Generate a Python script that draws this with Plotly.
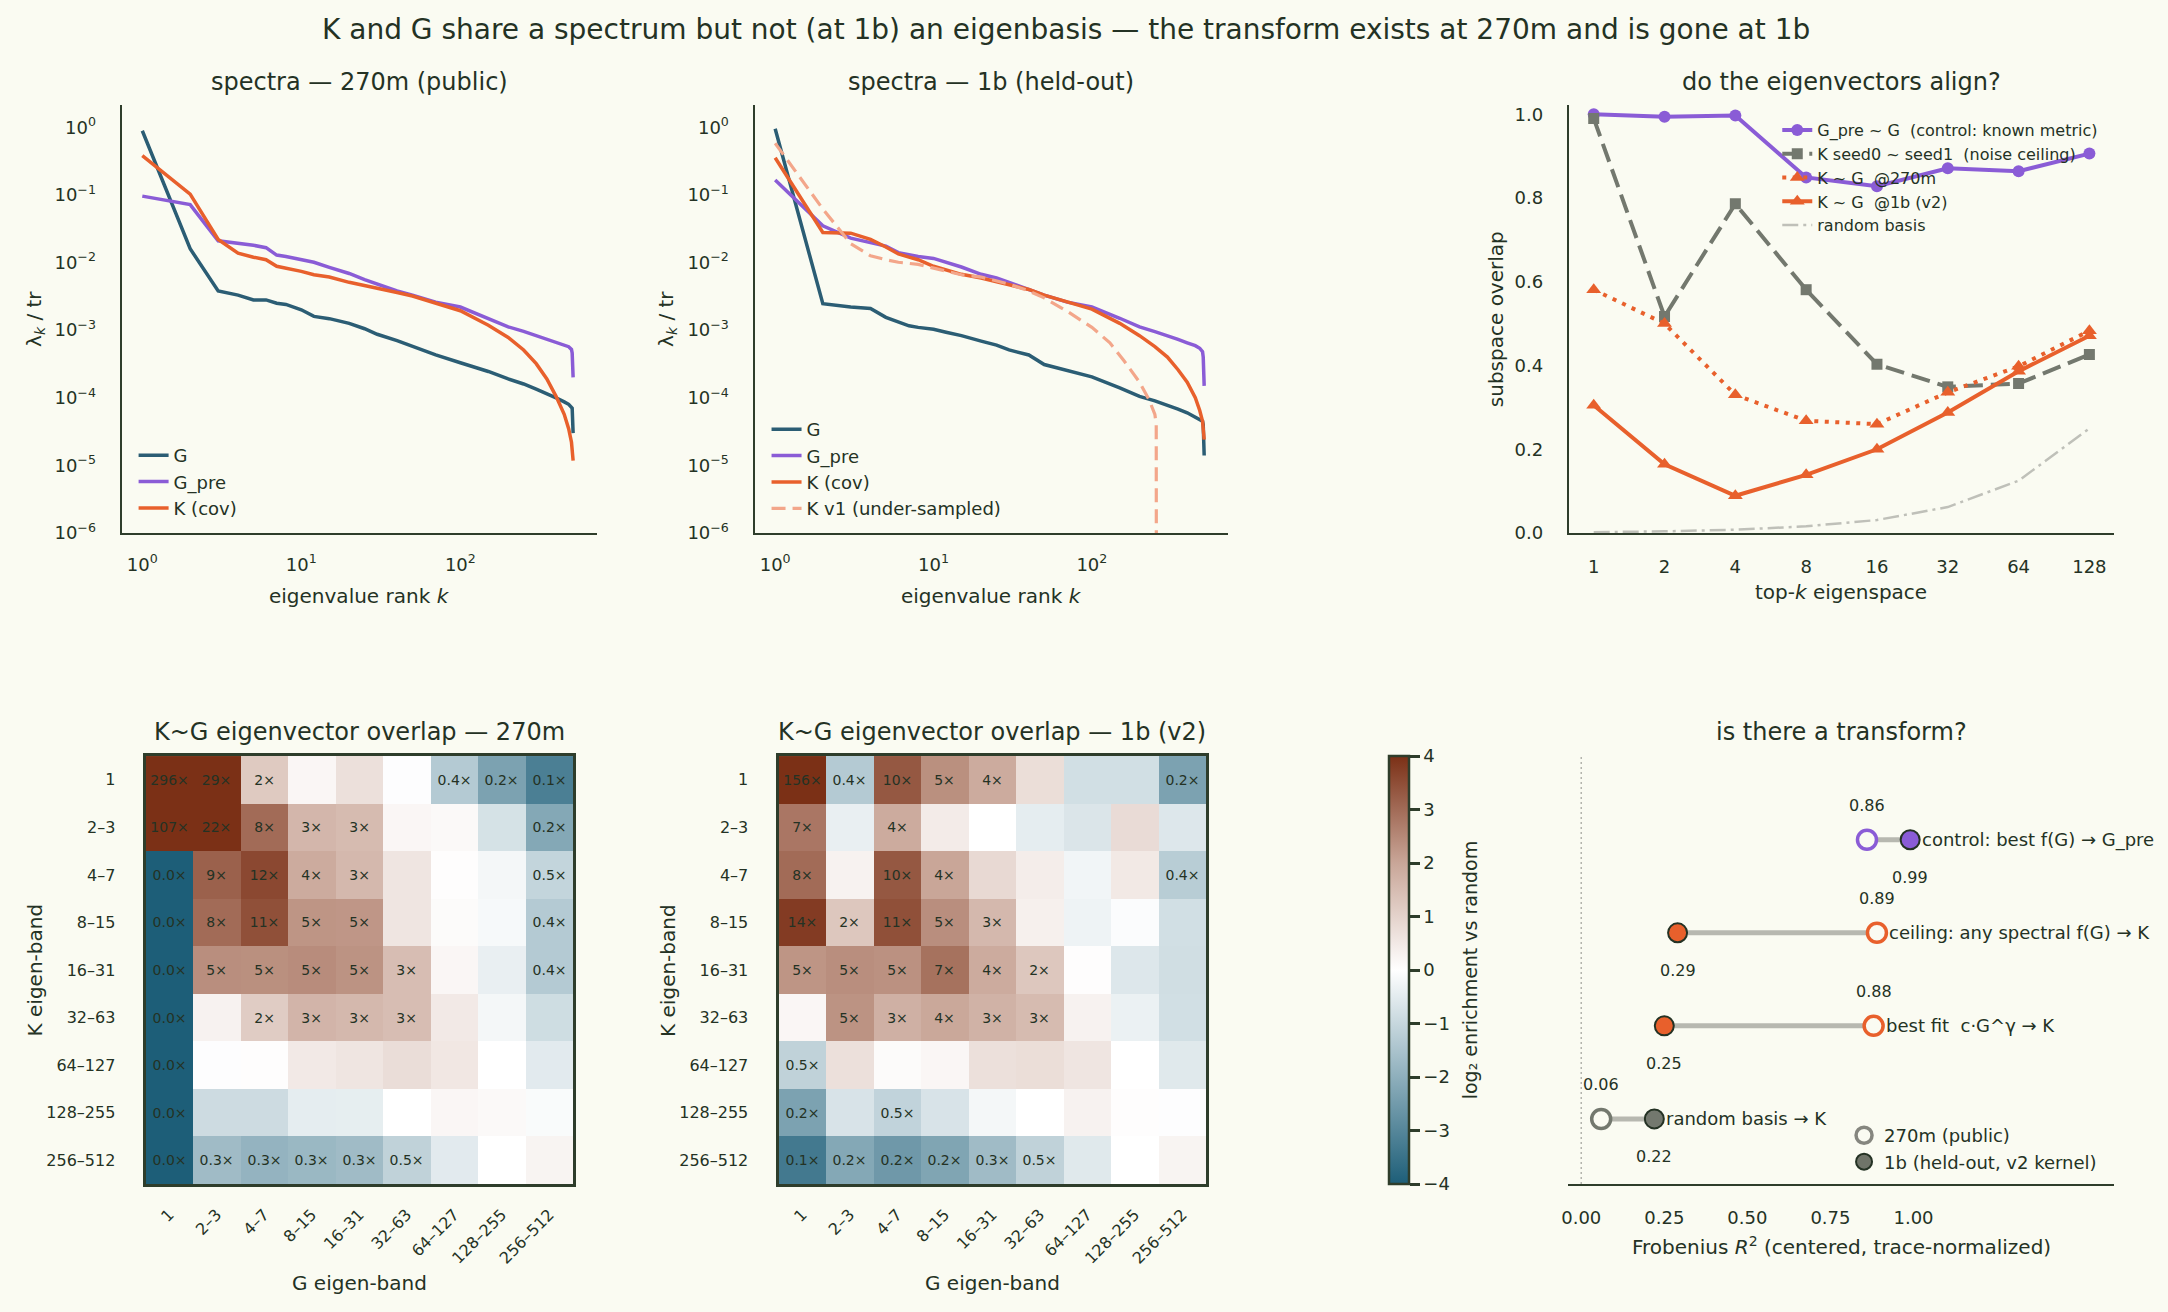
import numpy as np
import plotly.graph_objects as go

W, H = 2168, 1312
YS = 1.0085  # vertical calibration of the page photograph
BG = "#fafbf2"
INK = "#243224"
SPINE = "#2e3d2b"
C_G = "#2b5d74"
C_GPRE = "#8a5cd6"
C_K = "#e8602c"
C_KV1 = "#f3a68a"
C_GRAY = "#73786e"
C_RAND = "#bfc0b9"
C_LINK = "#b7b8b0"
FONT = "DejaVu Sans"
NB = "\u00a0"

# ---------------- spectra data ----------------
RANKS = [1, 2, 3, 4, 5, 6, 7, 8, 10, 12, 15, 20, 25, 30, 40, 50, 70, 100, 150, 200,
         250, 300, 350, 400, 450, 480, 500, 505, 512]

G_270 = [0.89, 0.016, 0.0038, 0.0033, 0.0028, 0.0028, 0.0025, 0.0024, 0.002, 0.0016, 0.00148,
         0.00126, 0.00105, 0.00087, 0.0007, 0.00057, 0.00043, 0.00033, 0.000245, 0.00019,
         0.00016, 0.000134, 0.000116, 0.0001, 0.000087, 0.00008, 0.000072, 0.00007, 0.00003]
GPRE_270 = [0.096, 0.072, 0.021, 0.0194, 0.018, 0.0166, 0.0129, 0.0123, 0.011, 0.0101, 0.0085,
            0.0069, 0.0056, 0.0048, 0.0038, 0.0033, 0.0026, 0.0022, 0.0015, 0.00112,
            0.00096, 0.00083, 0.00073, 0.00065, 0.0006, 0.00057, 0.00052, 0.00046, 0.0002]
K_270 = [0.38, 0.103, 0.022, 0.0138, 0.012, 0.011, 0.0088, 0.0083, 0.0074, 0.0066, 0.0061,
         0.0051, 0.0046, 0.0042, 0.0036, 0.0032, 0.0025, 0.00194, 0.00118, 0.00078,
         0.00051, 0.00032, 0.00019, 0.000105, 0.000057, 0.000035, 0.000022, 0.000018, 0.0000118]

G_1B = [0.95, 0.00246, 0.0022, 0.0021, 0.00155, 0.00134, 0.00116, 0.0011, 0.00103, 0.00093,
        0.00083, 0.00069, 0.0006, 0.00051, 0.00043, 0.00031, 0.00025, 0.000204, 0.00014,
        0.000105, 0.00009, 0.000078, 0.000068, 0.00006, 0.000052, 0.000048, 0.000045, 0.00004,
        0.000014]
GPRE_1B = [0.166, 0.035, 0.023, 0.02, 0.0175, 0.014, 0.013, 0.0123, 0.0115, 0.0101, 0.0086,
           0.0067, 0.0059, 0.0051, 0.004, 0.0033, 0.0026, 0.0022, 0.0015, 0.00112,
           0.00095, 0.00083, 0.00073, 0.00065, 0.00059, 0.00054, 0.00048, 0.0004, 0.00015]
K_1B = [0.355, 0.0278, 0.0272, 0.022, 0.017, 0.0134, 0.012, 0.011, 0.0088, 0.0078, 0.0067,
        0.0059, 0.0052, 0.0048, 0.004, 0.0033, 0.0026, 0.00205, 0.00126, 0.00083,
        0.00057, 0.0004, 0.00026, 0.00017, 0.0001, 0.000065, 0.000045, 0.000037, 0.000024]

RANKS_V1 = [1, 2, 3, 4, 5, 6, 8, 10, 15, 20, 30, 40, 50, 70, 100, 130, 160, 200, 230, 250, 255, 256]
KV1_1B = [0.58, 0.062, 0.019, 0.0126, 0.011, 0.0101, 0.0094, 0.0083, 0.0066, 0.0061, 0.0048,
          0.0038, 0.003, 0.0019, 0.0011, 0.00065, 0.00035, 0.00017, 0.000093, 0.000057,
          0.00004, 1e-9]

# ---------------- subspace overlap data ----------------
TOPK = ["1", "2", "4", "8", "16", "32", "64", "128"]
OV_GPRE_G = [1.0, 0.994, 0.997, 0.849, 0.828, 0.871, 0.864, 0.906]
OV_K_SEED = [0.99, 0.517, 0.786, 0.581, 0.403, 0.349, 0.357, 0.426]
OV_KG_270 = [0.581, 0.5, 0.33, 0.268, 0.26, 0.336, 0.398, 0.483]
OV_KG_1B = [0.305, 0.164, 0.089, 0.139, 0.2, 0.288, 0.386, 0.471]
OV_RAND = [0.002, 0.004, 0.008, 0.016, 0.031, 0.062, 0.125, 0.25]

# ---------------- eigen-band enrichment (ratio vs random) ----------------
BANDS = ["1", "2–3", "4–7", "8–15", "16–31", "32–63", "64–127", "128–255", "256–512"]
ENR_270 = [
    [296, 29, 2.3, 1.15, 1.62, 0.97, 0.4, 0.2, 0.11],
    [107, 22, 8, 3.1, 2.9, 1.15, 1.1, 0.6, 0.22],
    [0.01, 9, 12, 3.7, 3.0, 1.5, 1.03, 0.87, 0.48],
    [0.01, 8, 11, 4.9, 4.8, 1.5, 1.07, 0.9, 0.4],
    [0.01, 5.3, 5.2, 5.4, 5.0, 2.8, 1.15, 0.76, 0.4],
    [0.01, 1.23, 2.2, 3.2, 3.0, 2.8, 1.4, 0.87, 0.55],
    [0.01, 0.97, 1.03, 1.4, 1.5, 1.7, 1.45, 1.0, 0.7],
    [0.01, 0.54, 0.54, 0.73, 0.74, 1.0, 1.15, 1.1, 0.93],
    [0.01, 0.31, 0.27, 0.29, 0.31, 0.46, 0.7, 1.0, 1.19],
]
ENR_1B = [
    [156, 0.4, 10, 5.2, 3.7, 1.68, 0.57, 0.57, 0.2],
    [7, 0.76, 3.7, 1.37, 1.0, 0.73, 0.64, 1.74, 0.66],
    [8, 1.23, 10, 4.0, 1.8, 1.32, 0.84, 1.41, 0.42],
    [14, 2.4, 11, 5.3, 3.0, 1.27, 0.81, 0.95, 0.57],
    [4.9, 5.3, 5.1, 7.4, 3.7, 2.4, 1.03, 0.66, 0.56],
    [1.15, 5.0, 3.4, 3.9, 3.3, 2.9, 1.23, 0.78, 0.57],
    [0.46, 1.62, 1.07, 1.15, 1.62, 1.68, 1.5, 1.0, 0.68],
    [0.2, 0.62, 0.47, 0.62, 0.87, 1.0, 1.23, 1.03, 0.97],
    [0.1, 0.22, 0.17, 0.21, 0.31, 0.46, 0.68, 1.0, 1.19],
]

# ---------------- transform R^2 data ----------------
FIT_ROWS = ["random basis → K", f"best fit {NB}c·G^γ → K",
            "ceiling: any spectral f(G) → K", "control: best f(G) → G_pre"]
R2_270 = [0.06, 0.88, 0.89, 0.86]
R2_1B = [0.22, 0.25, 0.29, 0.99]
ROW_COLORS = [C_GRAY, C_K, C_K, C_GPRE]

# ---------------- helpers ----------------
def dx(a, b):
    return [a / W, b / W]


def dy(top, bottom):
    return [1 - bottom * YS / H, 1 - top * YS / H]


def PX(x):
    return x / W


def PY(y):
    return 1 - y * YS / H


def band_label(r):
    if r >= 2:
        return f"{r:.0f}×"
    if r <= 0.5:
        return f"{r:.1f}×"
    return ""


CSCALE = [[0.0, "#1d5e78"], [0.25, "#8eafbc"], [0.5, "#ffffff"],
          [0.75, "#c9a698"], [1.0, "#7b3016"]]

fig = go.Figure()

# ---- spectra 270m ----
for nm, ys, col in [("G", G_270, C_G), ("G_pre", GPRE_270, C_GPRE), ("K (cov)", K_270, C_K)]:
    fig.add_trace(go.Scatter(x=RANKS, y=ys, mode="lines", name=nm,
                             line=dict(color=col, width=3.5),
                             xaxis="x", yaxis="y", legend="legend", hoverinfo="skip"))

# ---- spectra 1b ----
for nm, ys, col in [("G", G_1B, C_G), ("G_pre", GPRE_1B, C_GPRE), ("K (cov)", K_1B, C_K)]:
    fig.add_trace(go.Scatter(x=RANKS, y=ys, mode="lines", name=nm,
                             line=dict(color=col, width=3.5),
                             xaxis="x2", yaxis="y2", legend="legend2", hoverinfo="skip"))
fig.add_trace(go.Scatter(x=RANKS_V1, y=KV1_1B, mode="lines", name="K v1 (under-sampled)",
                         line=dict(color=C_KV1, width=3.2, dash="14px,7px"),
                         xaxis="x2", yaxis="y2", legend="legend2", hoverinfo="skip"))

# ---- subspace overlap ----
fig.add_trace(go.Scatter(x=TOPK, y=OV_GPRE_G, mode="lines+markers",
                         name=f"G_pre ~ G {NB}(control: known metric)",
                         line=dict(color=C_GPRE, width=4),
                         marker=dict(symbol="circle", size=12, color=C_GPRE),
                         xaxis="x3", yaxis="y3", legend="legend3", hoverinfo="skip"))
fig.add_trace(go.Scatter(x=TOPK, y=OV_K_SEED, mode="lines+markers",
                         name=f"K seed0 ~ seed1 {NB}(noise ceiling)",
                         line=dict(color=C_GRAY, width=4, dash="19px,8px"),
                         marker=dict(symbol="square", size=11, color=C_GRAY),
                         xaxis="x3", yaxis="y3", legend="legend3", hoverinfo="skip"))
fig.add_trace(go.Scatter(x=TOPK, y=OV_KG_270, mode="lines+markers",
                         name=f"K ~ G {NB}@270m",
                         line=dict(color=C_K, width=4, dash="4px,6.5px"),
                         marker=dict(symbol="triangle-up", size=13, color=C_K),
                         xaxis="x3", yaxis="y3", legend="legend3", hoverinfo="skip"))
fig.add_trace(go.Scatter(x=TOPK, y=OV_KG_1B, mode="lines+markers",
                         name=f"K ~ G {NB}@1b (v2)",
                         line=dict(color=C_K, width=4),
                         marker=dict(symbol="triangle-up", size=13, color=C_K),
                         xaxis="x3", yaxis="y3", legend="legend3", hoverinfo="skip"))
fig.add_trace(go.Scatter(x=TOPK, y=OV_RAND, mode="lines", name="random basis",
                         line=dict(color=C_RAND, width=2.5, dash="16px,5px,3px,5px"),
                         xaxis="x3", yaxis="y3", legend="legend3", hoverinfo="skip"))

# ---- heatmaps ----
for k, (R, xa, ya, show) in enumerate([(ENR_270, "x4", "y4", True), (ENR_1B, "x5", "y5", False)]):
    arr = np.array(R, dtype=float)
    z = np.log2(np.maximum(arr, 1e-3))
    txt = [[band_label(v) for v in row] for row in R]
    fig.add_trace(go.Heatmap(
        z=z, x=BANDS, y=BANDS, text=txt, texttemplate="%{text}",
        textfont=dict(size=14, color=INK, family=FONT),
        colorscale=CSCALE, zmin=-4, zmax=4, xaxis=xa, yaxis=ya,
        showscale=show, hoverinfo="skip",
        colorbar=dict(x=1386 / W, xanchor="left", y=PY(1183), yanchor="bottom",
                      len=428 * YS / H, lenmode="fraction", thickness=20, thicknessmode="pixels",
                      outlinewidth=2.5, outlinecolor=SPINE, ticks="outside", ticklen=10,
                      tickwidth=2.5, tickcolor=SPINE, tickvals=[-4, -3, -2, -1, 0, 1, 2, 3, 4],
                      tickfont=dict(size=18, color=INK, family=FONT), xpad=0, ypad=0)))

# ---- transform dumbbells ----
for i in range(len(FIT_ROWS)):
    fig.add_trace(go.Scatter(x=[R2_270[i], R2_1B[i]], y=[i, i], mode="lines",
                             line=dict(color=C_LINK, width=5), showlegend=False,
                             xaxis="x6", yaxis="y6", hoverinfo="skip"))
fig.add_trace(go.Scatter(x=R2_270, y=list(range(len(FIT_ROWS))), mode="markers",
                         marker=dict(size=19, color=BG, line=dict(color=ROW_COLORS, width=3.5)),
                         showlegend=False, xaxis="x6", yaxis="y6", hoverinfo="skip"))
fig.add_trace(go.Scatter(x=R2_1B, y=list(range(len(FIT_ROWS))), mode="markers",
                         marker=dict(size=19, color=ROW_COLORS, line=dict(color=INK, width=2)),
                         showlegend=False, xaxis="x6", yaxis="y6", hoverinfo="skip"))
fig.add_trace(go.Scatter(x=[None], y=[None], mode="markers", name="270m (public)",
                         marker=dict(size=16, color=BG, line=dict(color="#85867f", width=3.5)),
                         xaxis="x6", yaxis="y6", legend="legend4"))
fig.add_trace(go.Scatter(x=[None], y=[None], mode="markers", name="1b (held-out, v2 kernel)",
                         marker=dict(size=16, color="#6f7469", line=dict(color=INK, width=2)),
                         xaxis="x6", yaxis="y6", legend="legend4"))

# ---------------- layout ----------------
tickfont = dict(size=18, color=INK, family=FONT)
base = dict(showgrid=False, zeroline=False, ticks="", linecolor=SPINE, linewidth=2.2,
            tickfont=tickfont)

log_x_ticks = dict(tickvals=[1, 10, 100],
                   ticktext=["10<sup>0</sup>", "10<sup>1</sup>", "10<sup>2</sup>"])
log_y_ticks = dict(tickvals=[1e-6, 1e-5, 1e-4, 1e-3, 1e-2, 1e-1, 1],
                   ticktext=["10<sup>−6</sup>", "10<sup>−5</sup>", "10<sup>−4</sup>",
                             "10<sup>−3</sup>", "10<sup>−2</sup>", "10<sup>−1</sup>",
                             "10<sup>0</sup>"])

layout = dict(
    width=W, height=H, autosize=False,
    margin=dict(l=0, r=0, t=0, b=0),
    paper_bgcolor=BG, plot_bgcolor=BG,
    font=dict(family=FONT, color=INK, size=18),
    showlegend=True,
)

layout["xaxis"] = dict(base, type="log", range=[-0.13, 2.86], domain=dx(115, 592), anchor="y",
                       showline=True, ticklabelstandoff=14, **log_x_ticks)
layout["yaxis"] = dict(base, type="log", range=[-6, 0.33], domain=dy(104, 532), anchor="x",
                       showline=True, ticklabelstandoff=20, **log_y_ticks)
layout["xaxis2"] = dict(base, type="log", range=[-0.13, 2.86], domain=dx(750, 1225), anchor="y2",
                        showline=True, ticklabelstandoff=14, **log_x_ticks)
layout["yaxis2"] = dict(base, type="log", range=[-6, 0.33], domain=dy(104, 532), anchor="x2",
                        showline=True, ticklabelstandoff=20, **log_y_ticks)
layout["xaxis3"] = dict(base, type="category", categoryorder="array", categoryarray=TOPK,
                        range=[-0.35, 7.35], domain=dx(1567, 2114), anchor="y3",
                        showline=True, ticklabelstandoff=16)
layout["yaxis3"] = dict(base, range=[0, 1.022], domain=dy(104, 532), anchor="x3",
                        showline=True, tickvals=[0, 0.2, 0.4, 0.6, 0.8, 1.0],
                        tickformat=".1f", ticklabelstandoff=20)

hm_x = dict(showgrid=False, zeroline=False, ticks="", type="category", range=[-0.5, 8.5],
            showline=True, mirror=True, linecolor=SPINE, linewidth=3, tickangle=-45,
            tickfont=dict(size=16, color=INK, family=FONT), ticklabelstandoff=12)
hm_y = dict(showgrid=False, zeroline=False, ticks="", type="category", range=[8.5, -0.5],
            showline=True, mirror=True, linecolor=SPINE, linewidth=3,
            tickfont=dict(size=16, color=INK, family=FONT), ticklabelstandoff=24)
layout["xaxis4"] = dict(hm_x, domain=dx(139, 568), anchor="y4")
layout["yaxis4"] = dict(hm_y, domain=dy(755, 1183), anchor="x4")
layout["xaxis5"] = dict(hm_x, domain=dx(774, 1203), anchor="y5")
layout["yaxis5"] = dict(hm_y, domain=dy(755, 1183), anchor="x5")

layout["xaxis6"] = dict(base, range=[-0.04, 1.604], domain=dx(1566, 2114), anchor="y6",
                        showline=True, tickvals=[0, 0.25, 0.5, 0.75, 1.0], tickformat=".2f",
                        ticklabelstandoff=16)
layout["yaxis6"] = dict(range=[-0.7, 3.9], domain=dy(755, 1183), anchor="x6", visible=False,
                        showgrid=False, zeroline=False)

leg = dict(bgcolor="rgba(0,0,0,0)", borderwidth=0, xanchor="left", yanchor="top",
           tracegroupgap=0, itemclick=False, itemdoubleclick=False)
layout["legend"] = dict(leg, x=PX(127), y=PY(436), font=dict(size=18, color=INK, family=FONT))
layout["legend2"] = dict(leg, x=PX(762), y=PY(410), font=dict(size=18, color=INK, family=FONT))
layout["legend3"] = dict(leg, x=PX(1776), y=PY(112), font=dict(size=16, color=INK, family=FONT))
layout["legend4"] = dict(leg, x=PX(1843), y=PY(1116), font=dict(size=18, color=INK, family=FONT))

fig.update_layout(**layout)

# reference line at R^2 = 0
fig.add_shape(type="line", x0=0, x1=0, xref="x6", y0=0, y1=1, yref="y6 domain",
              line=dict(color="#b3b4ad", width=1.5, dash="2px,3px"), layer="below")

ann = []


def text(x, y, s, size, angle=0, xa="center", ya="middle"):
    ann.append(dict(x=PX(x), y=PY(y), xref="paper", yref="paper", text=s, showarrow=False,
                    font=dict(size=size, color=INK, family=FONT), textangle=angle,
                    xanchor=xa, yanchor=ya))


text(1062, 28, "K and G share a spectrum but not (at 1b) an eigenbasis — the transform exists at 270m and is gone at 1b", 28)
text(353.5, 81, "spectra — 270m (public)", 24)
text(987.5, 81, "spectra — 1b (held-out)", 24)
text(1840, 81, "do the eigenvectors align?", 24)
text(353.5, 731, "K~G eigenvector overlap — 270m", 24)
text(988.5, 731, "K~G eigenvector overlap — 1b (v2)", 24)
text(1840, 731, "is there a transform?", 24)

text(353.5, 595, "eigenvalue rank <i>k</i>", 20)
text(987.5, 595, "eigenvalue rank <i>k</i>", 20)
text(1840, 591, "top-<i>k</i> eigenspace", 20)
text(353.5, 1282, "G eigen-band", 20)
text(988.5, 1282, "G eigen-band", 20)
text(1840, 1245, "Frobenius <i>R</i><sup>2</sup> (centered, trace-normalized)", 20)

text(28, 318, "λ<sub><i>k</i></sub> / tr", 20, angle=-90)
text(662, 318, "λ<sub><i>k</i></sub> / tr", 20, angle=-90)
text(1494, 318, "subspace overlap", 20, angle=-90)
text(28.5, 969, "K eigen-band", 20, angle=-90)
text(663, 969, "K eigen-band", 20, angle=-90)
text(1468, 969, "log₂ enrichment vs random", 19, angle=-90)

for i, lab in enumerate(FIT_ROWS):
    ann.append(dict(x=max(R2_270[i], R2_1B[i]), y=i, xref="x6", yref="y6", text=lab,
                    showarrow=False, xanchor="left", yanchor="middle", xshift=10,
                    font=dict(size=18, color=INK, family=FONT)))
    ann.append(dict(x=R2_270[i], y=i, xref="x6", yref="y6", text=f"{R2_270[i]:.2f}",
                    showarrow=False, xanchor="center", yanchor="middle", yshift=34,
                    font=dict(size=16, color=INK, family=FONT)))
    ann.append(dict(x=R2_1B[i], y=i, xref="x6", yref="y6", text=f"{R2_1B[i]:.2f}",
                    showarrow=False, xanchor="center", yanchor="middle", yshift=-38,
                    font=dict(size=16, color=INK, family=FONT)))

fig.update_layout(annotations=ann)
fig.write_html("out.html")
